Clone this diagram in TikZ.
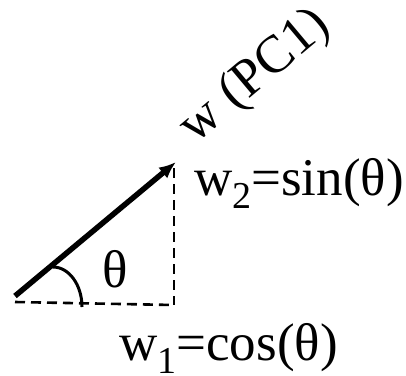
\documentclass[tikz,border=0pt]{standalone}
\usepackage{fontspec}
\setmainfont{Liberation Serif}
\usepackage{tikz}
\usetikzlibrary{arrows.meta,positioning,calc}
\newcommand{\lowsub}[1]{\raisebox{-0.25em}{\fontsize{38}{38}\selectfont #1}}

\begin{document}
\begin{tikzpicture}[x=1pt, y=-1pt, every node/.style={font=\fontsize{53}{60}\selectfont, inner sep=0pt}, >={Latex[length=17pt,width=14pt]}, guide/.style={line width=2.6pt, dash pattern=on 10pt off 6pt}]
\useasboundingbox (0,0) rectangle (406,375);
\coordinate (o) at (15,296);
\coordinate (tip) at (176,162);
\coordinate (base) at (15,302);
\coordinate (corner) at (174,305);
\coordinate (top) at (174,168);
\draw[->, line width=5.5pt] (o) -- (tip);
\draw[guide] (base) -- (corner);
\draw[guide] (top) -- (corner);
\draw[line width=3pt] (53,267) arc[start angle=-90, end angle=0, x radius=29, y radius=40];
\node[anchor=base west] (anglbl) at (102,287) {θ};
\node[anchor=base west] (sinlbl) at (194,195) {w\lowsub{2}=sin(θ)};
\node[anchor=base west] (coslbl) at (119,360) {w\lowsub{1}=cos(θ)};
\node[rotate=40] (pclbl) at (256,77) {w (PC1)};
\end{tikzpicture}
\end{document}
